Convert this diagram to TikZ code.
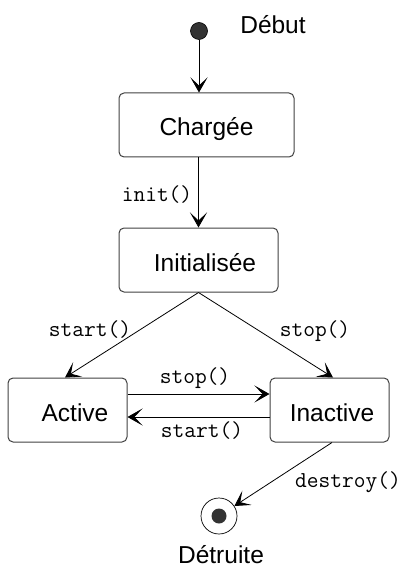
\documentclass[tikz,border=0pt]{standalone}
\usepackage{fontspec}
\setmainfont{Liberation Sans}
\usetikzlibrary{arrows.meta}

\begin{document}
\begin{tikzpicture}[x=1pt,y=-1pt,
  state/.style={draw=black!75, line width=1pt, rounded corners=5pt,
    minimum height=64pt, inner sep=0pt, text height=22pt, text depth=0pt,
    font=\fontsize{24.5}{28}\selectfont},
  lbl/.style={font=\fontsize{24.5}{28}\selectfont, anchor=base, inner sep=0pt},
  call/.style={font=\ttfamily\fontsize{22.8}{26}\selectfont, anchor=base, inner sep=0pt},
  trans/.style={draw=black, line width=0.8pt,
    -{Stealth[length=15pt,width=17pt,inset=8pt]}},
]
\useasboundingbox (0,0) rectangle (405,569);

% initial and final pseudo-states
\node[circle, fill=black!80, draw=black, line width=0.6pt,
      minimum size=17pt, inner sep=0pt] (debut) at (199,31) {};
\node[lbl] (debutlbl) at (273,34) {Début};

\node[circle, draw=black, line width=0.7pt, minimum size=36pt, inner sep=0pt]
  (fin) at (219,516) {};
\node[circle, fill=black!80, minimum size=15pt, inner sep=0pt] (fincore) at (fin) {};
\node[lbl] (finlbl) at (221,563) {Détruite};

% states
\node[state, minimum width=175pt] (charg) at (206.5,125) {Chargée\hspace{10pt}};
\node[state, minimum width=159pt] (init) at (198.5,260) {\hspace{13pt}Initialisée};
\node[state, minimum width=119pt] (active) at (67.5,410) {\hspace{15pt}Active};
\node[state, minimum width=119pt] (inactive) at (329.5,410) {\hspace{5pt}Inactive};

% transitions
\draw[trans] (debut) -- (charg.north -| debut);
\draw[trans] (init.north |- charg.south) -- (init.north);
\draw[trans] (init.south) -- ([xshift=-2.5pt]active.north);
\draw[trans] (init.south) -- ([xshift=3.5pt]inactive.north);
\draw[trans] ([yshift=16pt]active.east) -- ([yshift=16pt]inactive.west);
\draw[trans] ([yshift=-7pt]inactive.west) -- ([yshift=-7pt]active.east);
\draw[trans] ([xshift=2.5pt]inactive.south) -- (fin);

% transition labels
\node[call] (l1) at (157,201) {init()};
\node[call] (l2) at (90,336) {start()};
\node[call] (l3) at (315,336) {stop()};
\node[call] (l4) at (195,383) {stop()};
\node[call] (l5) at (202,437) {start()};
\node[call] (l6) at (348,487) {destroy()};
\end{tikzpicture}
\end{document}
